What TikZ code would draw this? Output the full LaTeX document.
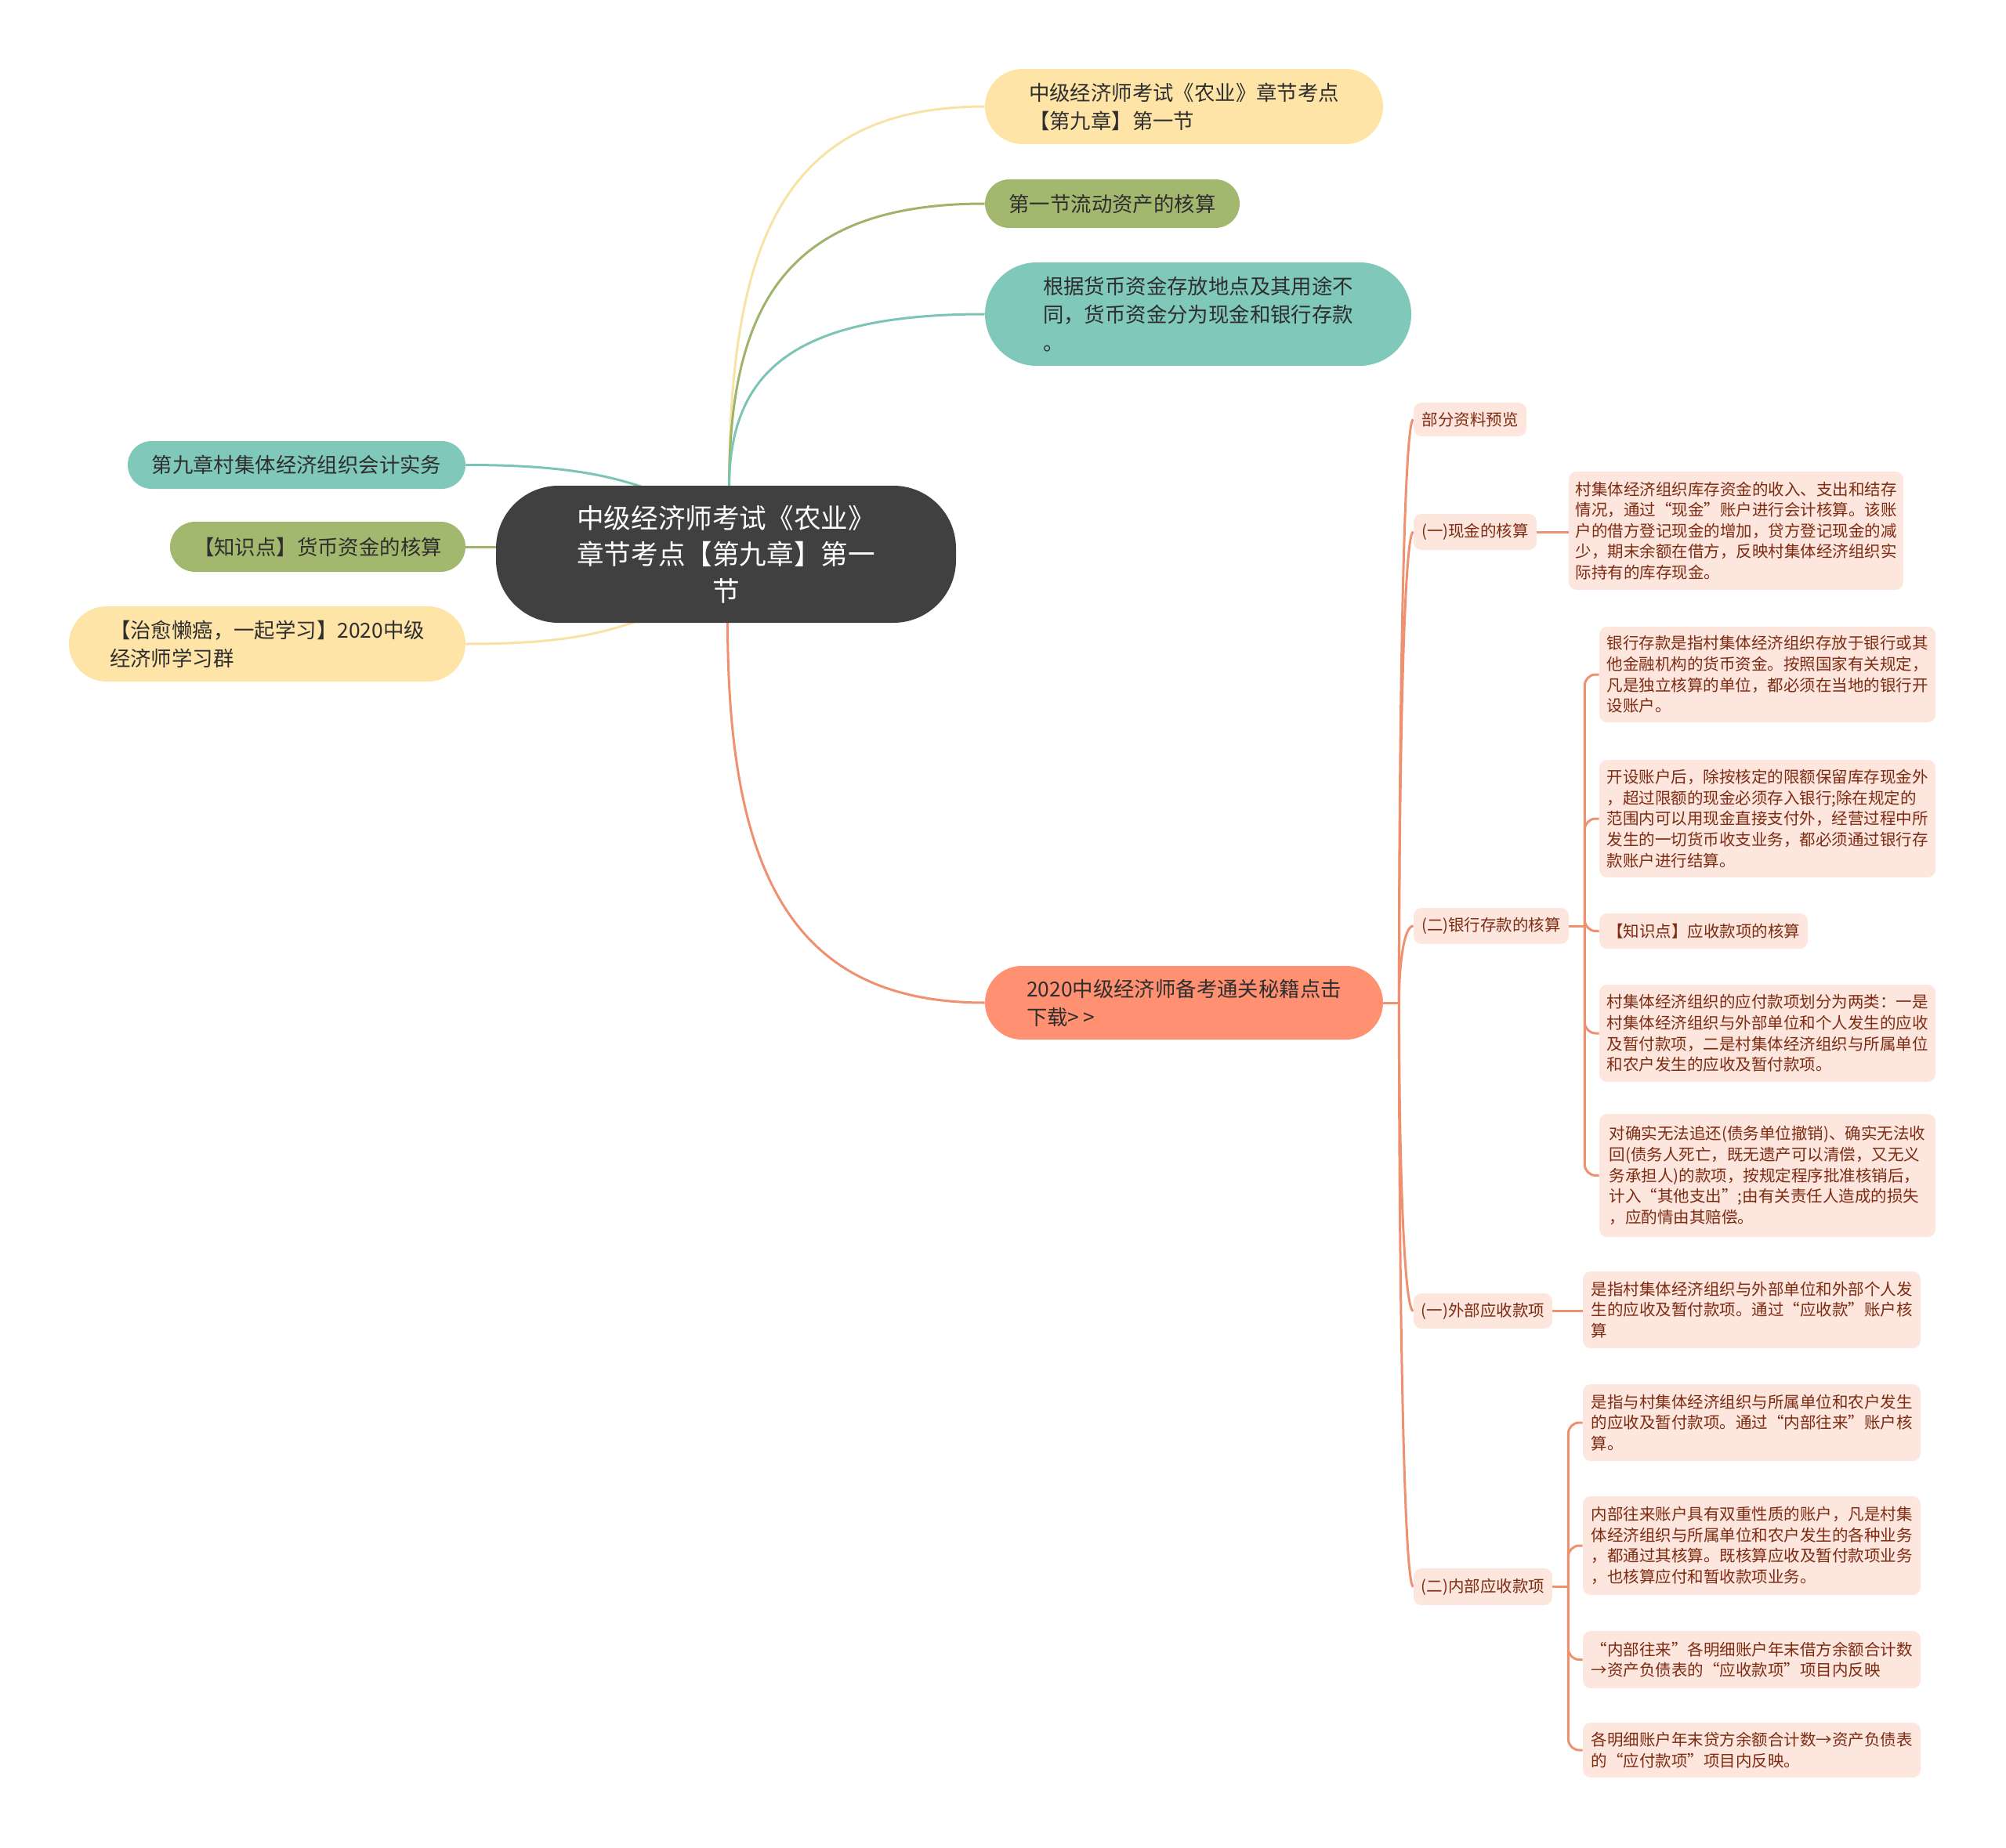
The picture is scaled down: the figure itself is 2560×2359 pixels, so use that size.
\documentclass[tikz,border=0pt]{standalone}
\usepackage{fontspec}
\setmainfont{Noto Sans CJK SC}
\usetikzlibrary{calc}
\pgfdeclarelayer{background}
\pgfsetlayers{background,main}
\definecolor{rootc}{HTML}{404040}
\definecolor{yelc}{HTML}{FFE4A8}
\definecolor{yell}{HTML}{F7E3A6}
\definecolor{grnc}{HTML}{A3B86F}
\definecolor{grnl}{HTML}{9FB36A}
\definecolor{telc}{HTML}{80C9BA}
\definecolor{tell}{HTML}{7CC4B5}
\definecolor{orgc}{HTML}{FF9172}
\definecolor{orgl}{HTML}{EF9171}
\definecolor{leafc}{HTML}{FCE6DE}
\definecolor{leaft}{HTML}{7E2B12}
\definecolor{txtd}{HTML}{2E2E2E}
\begin{document}
\begin{tikzpicture}[x=0.5pt,y=-0.5pt,
  rootnode/.style={fill=rootc,text=white,inner sep=0pt,align=center,
    minimum width=293.5pt,minimum height=87.5pt,rounded corners=40pt,
    font={\fontsize{17.3pt}{23.2pt}\selectfont}},
  topnode/.style={inner sep=0pt,align=left,text=txtd,
    font={\fontsize{13.2pt}{18pt}\selectfont}},
  subnode/.style={fill=leafc,text=leaft,inner sep=0pt,align=left,rounded corners=5pt,
    font={\fontsize{10.25pt}{13.3pt}\selectfont}},
  conn/.style={line width=1.5pt},
  rconn/.style={line width=1.5pt,draw=orgl},
  elbow/.style={line width=1.5pt,draw=orgl,rounded corners=7pt}]
\useasboundingbox (0,0) rectangle (2560,2359);

% root
\node[rootnode] (root) at (926.5,707.5) {中级经济师考试《农业》\\章节考点【第九章】第一\\节};

% first level right
\node[topnode,fill=yelc,minimum width=254pt,minimum height=48pt,rounded corners=24pt] (y1) at (1511,136)
  {中级经济师考试《农业》章节考点\\【第九章】第一节};
\node[topnode,fill=grnc,minimum width=162.5pt,minimum height=31pt,rounded corners=15.5pt] (g1) at (1419.5,260)
  {第一节流动资产的核算};
\node[topnode,fill=telc,minimum width=272pt,minimum height=66pt,rounded corners=33pt] (t1) at (1529,401)
  {根据货币资金存放地点及其用途不\\同，货币资金分为现金和银行存款\\。};
\node[topnode,fill=orgc,minimum width=254pt,minimum height=47pt,rounded corners=23.5pt] (o1) at (1511,1280)
  {2020中级经济师备考通关秘籍点击\\下载>\kern2.5pt>};

% first level left
\node[topnode,fill=telc,minimum width=215.5pt,minimum height=30.5pt,rounded corners=15.25pt] (t2) at (378.5,593.5)
  {第九章村集体经济组织会计实务};
\node[topnode,fill=grnc,minimum width=188.5pt,minimum height=32pt,rounded corners=16pt] (g2) at (405.5,698)
  {【知识点】货币资金的核算};
\node[topnode,fill=yelc,minimum width=253pt,minimum height=48pt,rounded corners=24pt] (y2) at (341,822)
  {【治愈懒癌，一起学习】2020中级\\经济师学习群};

% second level
\node[subnode,minimum width=72pt,minimum height=21.5pt] (m0) at (1876,535.5) {部分资料预览};
\node[subnode,minimum width=78.5pt,minimum height=23pt] (m1) at (1882.5,679) {(一)现金的核算};
\node[subnode,minimum width=99pt,minimum height=23pt] (m2) at (1903,1182) {(二)银行存款的核算};
\node[subnode,minimum width=88.5pt,minimum height=22.5pt] (m3) at (1892.5,1673.5) {(一)外部应收款项};
\node[subnode,minimum width=88.5pt,minimum height=23.5pt] (m4) at (1892.5,2025.5) {(二)内部应收款项};

% leaves
\node[subnode,minimum width=213.5pt,minimum height=75.5pt] (la) at (2215.5,677.5)
  {村集体经济组织库存资金的收入、支出和结存\\情况，通过“现金”账户进行会计核算。该账\\户的借方登记现金的增加，贷方登记现金的减\\少，期末余额在借方，反映村集体经济组织实\\际持有的库存现金。};
\node[subnode,minimum width=214.5pt,minimum height=61pt] (lb) at (2255.5,861)
  {银行存款是指村集体经济组织存放于银行或其\\他金融机构的货币资金。按照国家有关规定，\\凡是独立核算的单位，都必须在当地的银行开\\设账户。};
\node[subnode,minimum width=214.5pt,minimum height=75pt] (lc) at (2255.5,1045)
  {开设账户后，除按核定的限额保留库存现金外\\，超过限额的现金必须存入银行;除在规定的\\范围内可以用现金直接支付外，经营过程中所\\发生的一切货币收支业务，都必须通过银行存\\款账户进行结算。};
\node[subnode,minimum width=133pt,minimum height=22.5pt] (ld) at (2174,1188.5)
  {【知识点】应收款项的核算};
\node[subnode,minimum width=214.5pt,minimum height=62pt] (le) at (2255.5,1319)
  {村集体经济组织的应付款项划分为两类：一是\\村集体经济组织与外部单位和个人发生的应收\\及暂付款项，二是村集体经济组织与所属单位\\和农户发生的应收及暂付款项。};
\node[subnode,minimum width=214.5pt,minimum height=78.5pt] (lf) at (2255.5,1500.5)
  {对确实无法追还(债务单位撤销)、确实无法收\\回(债务人死亡，既无遗产可以清偿，又无义\\务承担人)的款项，按规定程序批准核销后，\\计入“其他支出”;由有关责任人造成的损失\\，应酌情由其赔偿。};
\node[subnode,minimum width=215.5pt,minimum height=49pt] (lg) at (2235.5,1672)
  {是指村集体经济组织与外部单位和外部个人发\\生的应收及暂付款项。通过“应收款”账户核\\算};
\node[subnode,minimum width=215.5pt,minimum height=49pt] (lh) at (2235.5,1816)
  {是指与村集体经济组织与所属单位和农户发生\\的应收及暂付款项。通过“内部往来”账户核\\算。};
\node[subnode,minimum width=215.5pt,minimum height=63pt] (li) at (2235.5,1973)
  {内部往来账户具有双重性质的账户，凡是村集\\体经济组织与所属单位和农户发生的各种业务\\，都通过其核算。既核算应收及暂付款项业务\\，也核算应付和暂收款项业务。};
\node[subnode,minimum width=215.5pt,minimum height=36.5pt] (lj) at (2235.5,2118.5)
  {“内部往来”各明细账户年末借方余额合计数\\→资产负债表的“应收款项”项目内反映};
\node[subnode,minimum width=215.5pt,minimum height=35pt] (lk) at (2235.5,2234)
  {各明细账户年末贷方余额合计数→资产负债表\\的“应付款项”项目内反映。};

\coordinate (hub) at ($(o1.east)+(20,0)$);
\coordinate (hubb) at ($(m2.east)+(20,0)$);
\coordinate (hubi) at ($(m4.east)+(20,0)$);

\begin{pgfonlayer}{background}
% root to right top
\draw[conn,draw=yell] ($(root.north)+(4,4)$) .. controls ($(root.north)+(4,-322)$) and ($(y1.west)+(-250,0)$) .. (y1.west);
\draw[conn,draw=grnl] ($(root.north)+(4,4)$) .. controls ($(root.north)+(4,-240)$) and ($(g1.west)+(-245,0)$) .. (g1.west);
\draw[conn,draw=tell] ($(root.north)+(4,4)$) .. controls ($(root.north)+(4,-145)$) and ($(t1.west)+(-245,0)$) .. (t1.west);
\draw[conn,draw=orgl] ($(root.south)+(2,-4)$) .. controls ($(root.south)+(2,320)$) and ($(o1.west)+(-245,0)$) .. (o1.west);
% root to left
\draw[conn,draw=tell] (t2.east) .. controls ($(t2.east)+(130,0)$) and ($(root.north)+(-140,-12)$) .. ($(root.north)+(-80,12)$);
\draw[conn,draw=grnl] (g2.east) -- ($(g2.east -| root.west)+(12,0)$);
\draw[conn,draw=yell] (y2.east) .. controls ($(y2.east)+(130,0)$) and ($(root.south)+(-150,12)$) .. ($(root.south)+(-88,-12)$);
% right subtree
\draw[rconn] (o1.east) -- (hub);
\foreach \m in {m0,m1,m2,m3,m4}{
  \draw[rconn] (hub) .. controls ($(hub)!0.5!(hub |- \m.west)$) and ($(\m.west)+(-12,0)$) .. (\m.west);
}
\draw[rconn] (m1.east) -- (m1.east -| la.west);
\draw[rconn] (m3.east) -- (m3.east -| lg.west);
\draw[rconn] (m2.east) -- (hubb);
\foreach \l in {lb,lc,ld,le,lf}{
  \draw[elbow] (hubb) -- (hubb |- \l.west) -- (\l.west);
}
\draw[rconn] (m4.east) -- (hubi);
\foreach \l in {lh,li,lj,lk}{
  \draw[elbow] (hubi) -- (hubi |- \l.west) -- (\l.west);
}
\end{pgfonlayer}
\end{tikzpicture}
\end{document}
